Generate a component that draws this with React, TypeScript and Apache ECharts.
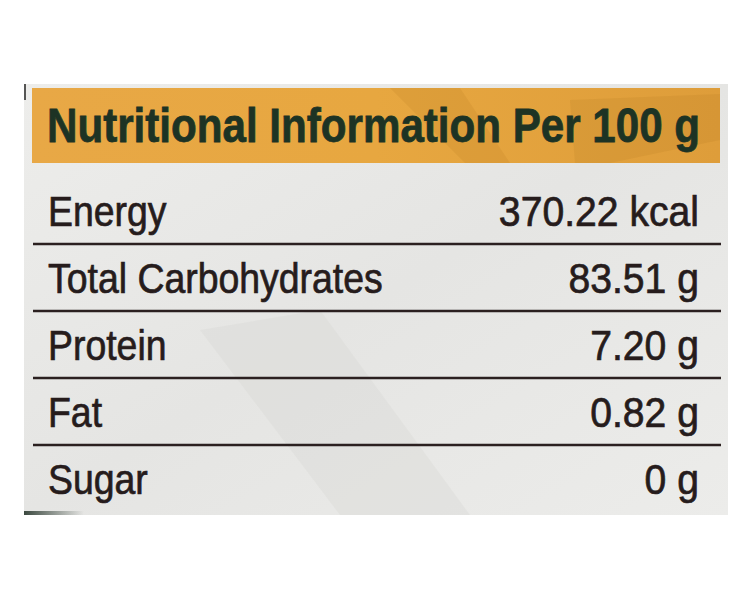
import React, { useEffect, useRef } from "react";
import * as echarts from "echarts";

const title = "Nutritional Information Per 100 g";
const nutrients = ["Energy", "Total Carbohydrates", "Protein", "Fat", "Sugar"];
const amounts = ["370.22", "83.51", "7.20", "0.82", "0"];
const units = ["kcal", "g", "g", "g", "g"];

const BODY_FONT = '43px "Liberation Sans", Arial, sans-serif';
const HEAD_FONT = 'bold 49px "Liberation Sans", Arial, sans-serif';
const TEXT_COLOR = "#261c1c";
const HEAD_COLOR = "#1d3324";

export default function App() {
  const ref = useRef<HTMLDivElement>(null);
  useEffect(() => {
    if (!ref.current) return;
    const chart = echarts.init(ref.current, null, { renderer: "svg" });
    const n = nutrients.length;
    chart.setOption({
      animation: false,
      backgroundColor: "#ffffff",
      grid: { left: 33, right: 31, top: 177, bottom: 88 },
      xAxis: { type: "value", min: 0, max: 1, show: false },
      yAxis: { type: "category", data: nutrients, inverse: true, show: false },
      graphic: [
        {
          type: "rect",
          shape: { x: 24, y: 84, width: 704, height: 431 },
          style: {
            fill: new echarts.graphic.LinearGradient(0, 0, 1, 1, [
              { offset: 0, color: "#ededeb" },
              { offset: 0.5, color: "#e5e5e3" },
              { offset: 1, color: "#ececea" },
            ]),
          },
          z: 0,
        },
        {
          type: "polygon",
          shape: { points: [[200, 330], [320, 310], [470, 515], [340, 515]] },
          style: { fill: "#d4d4d2", opacity: 0.3 },
          z: 1,
        },
        {
          type: "rect",
          shape: { x: 24, y: 84, width: 2, height: 16 },
          style: { fill: "#303030", opacity: 0.8 },
          z: 2,
        },
        {
          type: "rect",
          shape: { x: 24, y: 511, width: 60, height: 4 },
          style: {
            fill: new echarts.graphic.LinearGradient(0, 0, 1, 0, [
              { offset: 0, color: "rgba(40,55,45,0.9)" },
              { offset: 1, color: "rgba(40,55,45,0)" },
            ]),
          },
          z: 2,
        },
        {
          type: "rect",
          shape: { x: 32, y: 88, width: 688, height: 75 },
          style: {
            fill: new echarts.graphic.LinearGradient(0, 0, 1, 0, [
              { offset: 0, color: "#e8a846" },
              { offset: 0.5, color: "#e7a740" },
              { offset: 1, color: "#de9d3a" },
            ]),
          },
          z: 3,
        },
        {
          type: "polygon",
          shape: { points: [[390, 88], [460, 88], [510, 163], [465, 163]] },
          style: { fill: "#b87a22", opacity: 0.18 },
          z: 4,
        },
        {
          type: "polygon",
          shape: { points: [[570, 100], [720, 94], [720, 140], [610, 163], [575, 163]] },
          style: { fill: "#b07420", opacity: 0.16 },
          z: 4,
        },
        {
          type: "text",
          x: 47,
          y: 125,
          scaleX: 0.86,
          style: {
            text: title,
            font: HEAD_FONT,
            fill: HEAD_COLOR,
            stroke: HEAD_COLOR,
            lineWidth: 0.8,
            align: "left",
            verticalAlign: "middle",
          },
          z: 5,
        },
      ],
      series: [
        {
          type: "custom",
          coordinateSystem: "cartesian2d",
          data: nutrients.map((name, i) => ({ name, value: [1, i] })),
          z: 10,
          renderItem: (params: any, api: any) => {
            const i = params.dataIndex;
            const left = api.coord([0, api.value(1)]);
            const right = api.coord([1, api.value(1)]);
            const band = api.size([0, 1])[1];
            const cy = left[1] + 1;
            const children: any[] = [
              {
                type: "text",
                x: left[0] + 15,
                y: cy,
                scaleX: 0.87,
                style: {
                  text: nutrients[i],
                  font: BODY_FONT,
                  fill: TEXT_COLOR,
                  stroke: TEXT_COLOR,
                  lineWidth: 0.7,
                  align: "left",
                  verticalAlign: "middle",
                },
              },
              {
                type: "text",
                x: right[0] - 22,
                y: cy,
                scaleX: 0.91,
                style: {
                  text: `${amounts[i]} ${units[i]}`,
                  font: BODY_FONT,
                  fill: TEXT_COLOR,
                  stroke: TEXT_COLOR,
                  lineWidth: 0.7,
                  align: "right",
                  verticalAlign: "middle",
                },
              },
            ];
            if (i < n - 1) {
              const ly = left[1] + band / 2;
              children.push({
                type: "line",
                shape: { x1: left[0], y1: ly, x2: right[0], y2: ly },
                style: { stroke: "#2b2020", lineWidth: 2.5 },
              });
            }
            return { type: "group", children };
          },
        },
      ],
    });
    return () => chart.dispose();
  }, []);
  return (
    <div
      ref={ref}
      style={{ position: "fixed", left: 0, top: 0, width: 752, height: 600 }}
    />
  );
}
